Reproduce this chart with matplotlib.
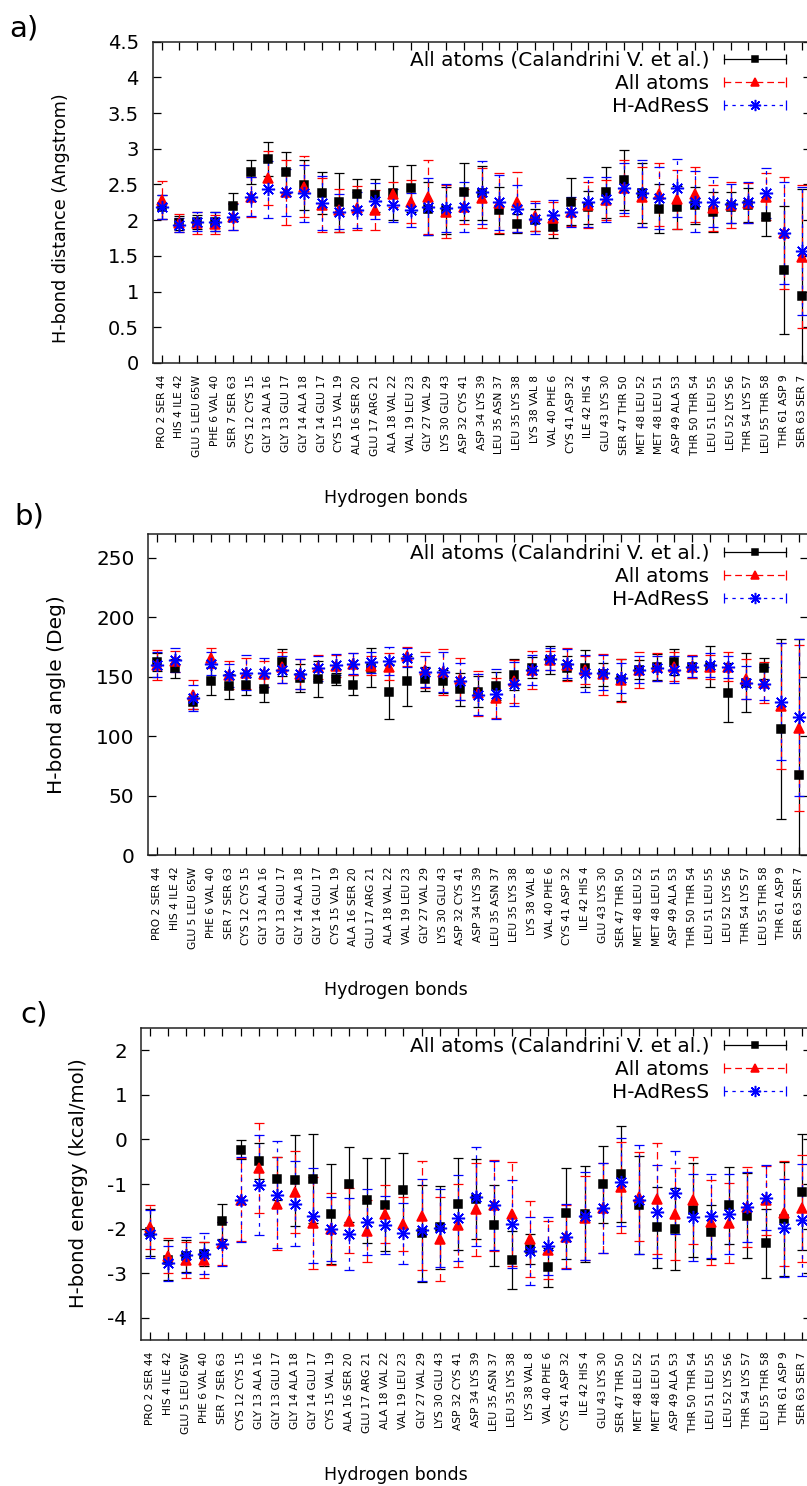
import numpy as np
import matplotlib
matplotlib.use("Agg")
import matplotlib.pyplot as plt
from matplotlib.lines import Line2D
from matplotlib.legend_handler import HandlerBase
from matplotlib.ticker import FuncFormatter, MultipleLocator

plt.rcParams['font.family'] = ['DejaVu Sans']
plt.rcParams['axes.unicode_minus'] = False

# ---------------- data ----------------
bonds = ["PRO 2 SER 44", "HIS 4 ILE 42", "GLU 5 LEU 65W", "PHE 6 VAL 40", "SER 7 SER 63",
         "CYS 12 CYS 15", "GLY 13 ALA 16", "GLY 13 GLU 17", "GLY 14 ALA 18", "GLY 14 GLU 17",
         "CYS 15 VAL 19", "ALA 16 SER 20", "GLU 17 ARG 21", "ALA 18 VAL 22", "VAL 19 LEU 23",
         "GLY 27 VAL 29", "LYS 30 GLU 43", "ASP 32 CYS 41", "ASP 34 LYS 39", "LEU 35 ASN 37",
         "LEU 35 LYS 38", "LYS 38 VAL 8", "VAL 40 PHE 6", "CYS 41 ASP 32", "ILE 42 HIS 4",
         "GLU 43 LYS 30", "SER 47 THR 50", "MET 48 LEU 52", "MET 48 LEU 51", "ASP 49 ALA 53",
         "THR 50 THR 54", "LEU 51 LEU 55", "LEU 52 LYS 56", "THR 54 LYS 57", "LEU 55 THR 58",
         "THR 61 ASP 9", "SER 63 SER 7"]

series_names = ["All atoms (Calandrini V. et al.)", "All atoms", "H-AdResS"]

# (a) H-bond distance (Angstrom)
dist_calandrini = [2.18, 1.96, 1.97, 1.98, 2.20, 2.67, 2.86, 2.67, 2.49, 2.38, 2.25, 2.36, 2.35, 2.38, 2.45,
                   2.16, 2.14, 2.40, 2.38, 2.14, 1.95, 2.00, 1.91, 2.26, 2.18, 2.39, 2.56, 2.38, 2.16, 2.18,
                   2.21, 2.11, 2.18, 2.21, 2.05, 1.30, 0.94]
dist_calandrini_err = [0.17, 0.10, 0.10, 0.13, 0.18, 0.17, 0.24, 0.29, 0.35, 0.30, 0.41, 0.22, 0.23, 0.38, 0.33,
                       0.37, 0.33, 0.40, 0.38, 0.33, 0.13, 0.15, 0.16, 0.33, 0.23, 0.36, 0.42, 0.42, 0.34, 0.30,
                       0.26, 0.28, 0.22, 0.24, 0.27, 0.90, 1.50]
dist_aa = [2.28, 1.96, 1.96, 1.94, 2.05, 2.33, 2.59, 2.39, 2.47, 2.21, 2.14, 2.17, 2.14, 2.36, 2.26,
           2.32, 2.12, 2.19, 2.31, 2.24, 2.26, 2.06, 2.03, 2.11, 2.21, 2.28, 2.45, 2.33, 2.36, 2.29,
           2.36, 2.17, 2.21, 2.24, 2.33, 1.82, 1.49]
dist_aa_err = [0.27, 0.13, 0.15, 0.13, 0.19, 0.28, 0.38, 0.46, 0.43, 0.38, 0.30, 0.31, 0.28, 0.18, 0.30,
               0.52, 0.37, 0.25, 0.42, 0.42, 0.42, 0.21, 0.22, 0.19, 0.32, 0.28, 0.39, 0.42, 0.44, 0.42,
               0.39, 0.32, 0.32, 0.28, 0.33, 0.78, 1.00]
dist_hadress = [2.18, 1.93, 1.98, 1.98, 2.04, 2.33, 2.43, 2.39, 2.38, 2.24, 2.12, 2.14, 2.27, 2.21, 2.14,
                2.19, 2.17, 2.19, 2.39, 2.25, 2.16, 2.02, 2.07, 2.11, 2.25, 2.29, 2.45, 2.38, 2.31, 2.45,
                2.26, 2.26, 2.23, 2.25, 2.38, 1.82, 1.57]
dist_hadress_err = [0.17, 0.10, 0.13, 0.13, 0.18, 0.27, 0.40, 0.33, 0.40, 0.38, 0.25, 0.25, 0.25, 0.23, 0.24,
                    0.40, 0.33, 0.35, 0.44, 0.39, 0.33, 0.22, 0.21, 0.21, 0.35, 0.32, 0.35, 0.47, 0.43, 0.41,
                    0.43, 0.35, 0.27, 0.29, 0.35, 0.72, 0.90]

# (b) H-bond angle (Deg)
ang_calandrini = [162, 157, 128.5, 146.5, 142, 143, 139.5, 162, 149, 148, 148, 143, 157.7, 137.5, 146,
                  148, 146, 139.5, 137.5, 142, 151.5, 157.7, 164, 157, 157, 152, 147, 156, 158, 162,
                  158, 158.5, 136.6, 145, 157, 106, 67]
ang_calandrini_err = [7.5, 8, 5.5, 12, 10.5, 8, 11, 11.5, 12, 15, 5, 8.5, 16.5, 23, 21,
                      10, 10, 14, 13, 12, 13, 8.5, 11.5, 10, 15.5, 9.5, 17.5, 8, 11, 11,
                      9.5, 17.5, 24.5, 25, 9, 75.5, 115]
ang_aa = [160, 163, 135, 165.5, 151.5, 153, 152, 158, 152, 158, 159, 160.5, 159, 158.5, 167,
          155.7, 154, 148, 136, 132, 146, 155.7, 164, 160, 155.7, 152, 147, 155.7, 158, 158.5,
          158.5, 158, 158.5, 148, 145, 125.7, 107]
ang_aa_err = [12.5, 9, 12, 8.5, 11.5, 13, 11, 13, 12.5, 10, 9, 9.5, 8, 11, 8,
              15, 19.5, 18, 19, 17, 18, 16, 8, 14, 12, 17, 18, 15, 12, 12.5,
              10, 10, 12, 17, 17, 53, 70]
ang_hadress = [160, 164, 132, 161, 151, 153.5, 153.5, 156, 152, 157, 160, 161, 162, 163, 166,
               154, 154, 146, 135, 135.5, 144, 155.7, 164.7, 161, 153, 153.5, 148.7, 156, 157, 156,
               158.5, 160, 158, 145, 144, 129, 116]
ang_hadress_err = [10.5, 10, 11, 10, 10, 14.5, 12.5, 11.5, 12.5, 10.5, 9, 9, 8.7, 12, 8,
                   13, 16.7, 15.5, 17.5, 21, 18.5, 12.5, 9.5, 12.5, 15.5, 15, 12.5, 11, 10.5, 11.5,
                   8.5, 10, 9.5, 14, 14, 49, 66]

# (c) H-bond energy (kcal/mol)
en_calandrini = [-2.08, -2.71, -2.61, -2.57, -1.84, -0.23, -0.48, -0.88, -0.92, -0.88, -1.67, -1.01, -1.37,
                 -1.46, -1.14, -2.11, -1.97, -1.44, -1.33, -1.93, -2.71, -2.46, -2.87, -1.66, -1.67, -1.01,
                 -0.78, -1.48, -1.97, -2.01, -1.58, -2.07, -1.48, -1.71, -2.33, -1.78, -1.18]
en_calandrini_err = [0.53, 0.45, 0.36, 0.26, 0.40, 0.21, 0.40, 0.49, 1.03, 1.00, 1.12, 0.85, 0.95,
                     1.05, 0.84, 1.08, 0.93, 1.03, 0.90, 0.90, 0.65, 0.34, 0.43, 1.03, 1.08, 0.86,
                     1.08, 1.10, 0.91, 0.93, 1.06, 0.61, 0.86, 0.96, 0.77, 1.28, 1.30]
en_aa = [-1.97, -2.61, -2.71, -2.71, -2.33, -1.35, -0.65, -1.44, -1.18, -1.88, -2.01, -1.82, -2.05,
         -1.67, -1.90, -1.71, -2.23, -1.93, -1.57, -1.48, -1.67, -2.23, -2.48, -2.18, -1.77, -1.54,
         -1.07, -1.29, -1.33, -1.67, -1.37, -1.86, -1.88, -1.52, -1.37, -1.66, -1.54]
en_aa_err = [0.49, 0.39, 0.41, 0.40, 0.48, 0.93, 1.01, 1.05, 0.91, 1.03, 0.81, 0.72, 0.69,
             0.65, 0.60, 1.23, 0.94, 0.94, 1.05, 1.02, 1.16, 0.85, 0.66, 0.71, 0.94, 1.00,
             1.02, 1.00, 1.24, 1.03, 0.98, 0.96, 0.90, 0.90, 0.77, 1.17, 1.20]
en_hadress = [-2.12, -2.78, -2.59, -2.56, -2.35, -1.35, -1.03, -1.24, -1.44, -1.71, -2.01, -2.12, -1.86,
              -1.92, -2.11, -2.03, -1.99, -1.76, -1.29, -1.48, -1.90, -2.50, -2.39, -2.18, -1.71, -1.54,
              -0.96, -1.35, -1.62, -1.20, -1.75, -1.71, -1.67, -1.52, -1.31, -1.99, -1.81]
en_hadress_err = [0.53, 0.39, 0.40, 0.46, 0.49, 0.95, 1.12, 1.20, 0.96, 1.06, 0.72, 0.81, 0.74,
                  0.65, 0.69, 1.14, 0.88, 0.97, 1.11, 1.00, 0.98, 0.76, 0.65, 0.73, 0.99, 1.00,
                  0.99, 1.22, 1.05, 0.93, 0.98, 0.94, 0.90, 0.78, 0.73, 1.10, 1.26]

# ---------------- style ----------------
W, H = 807, 1486
fig = plt.figure(figsize=(W / 100, H / 100), dpi=100)

styles = [
    dict(color='#000000', marker='s', ms=5.6, dashes=None),
    dict(color='#ff0000', marker='^', ms=7.5, dashes=(6, 3.5)),
    dict(color='#0000ff', marker=(8, 2, 0), ms=9.5, dashes=(3, 4)),
]
LW = 0.9
CAP = 3.4


class HandlerErrLine(HandlerBase):
    def create_artists(self, legend, orig, xdescent, ydescent, width, height, fontsize, trans):
        y = height / 2 - ydescent
        x0, x1 = -xdescent, width - xdescent
        line = Line2D([x0, x1], [y, y], color=orig.get_color(), lw=orig.get_linewidth())
        line.set_linestyle(orig.get_linestyle())
        if orig._dash_pattern[1] is not None:
            line.set_dashes(orig._dash_pattern[1])
        caps = Line2D([x0, x1], [y, y], color=orig.get_color(), linestyle='None',
                      marker='|', ms=2 * CAP, mew=orig.get_linewidth())
        mk = Line2D([(x0 + x1) / 2], [y], color=orig.get_color(), linestyle='None',
                    marker=orig.get_marker(), ms=orig.get_markersize() * 0.85,
                    mew=orig.get_markeredgewidth())
        for a in (line, caps, mk):
            a.set_transform(trans)
        return [line, caps, mk]


def px(x, y):
    return x / W, 1 - y / H


panels = [
    dict(rect=(152.8, 41.7, 810.6, 363.0), ylim=(0, 4.5), step=0.5,
         data=[(dist_calandrini, dist_calandrini_err), (dist_aa, dist_aa_err), (dist_hadress, dist_hadress_err)],
         ylabel="H-bond distance (Angstrom)", ylab_xy=(61, 218), ylab_fs=12.7, tick_fs=14,
         tag="a)", tag_xy=(9, 36), xlab_y=498, leg_top=51),
    dict(rect=(148.4, 534.0, 808.2, 855.0), ylim=(0, 270), step=50,
         data=[(ang_calandrini, ang_calandrini_err), (ang_aa, ang_aa_err), (ang_hadress, ang_hadress_err)],
         ylabel="H-bond angle (Deg)", ylab_xy=(56, 695), ylab_fs=14.5, tick_fs=14.4,
         tag="b)", tag_xy=(14, 525), xlab_y=990, leg_top=544),
    dict(rect=(141.0, 1028.0, 810.8, 1340.0), ylim=(-4.5, 2.5), step=1,
         data=[(en_calandrini, en_calandrini_err), (en_aa, en_aa_err), (en_hadress, en_hadress_err)],
         ylabel="H-bond energy (kcal/mol)", ylab_xy=(78, 1183), ylab_fs=14.1, tick_fs=14.4,
         tag="c)", tag_xy=(20, 1022), xlab_y=1475, leg_top=1037),
]

x = np.arange(len(bonds))

for p in panels:
    l, t, r, b = p['rect']
    ax = fig.add_axes([l / W, 1 - b / H, (r - l) / W, (b - t) / H])
    handles = []
    for (vals, errs), st, name in zip(p['data'], styles, series_names):
        eb = ax.errorbar(x, vals, yerr=errs, fmt='none', ecolor=st['color'], elinewidth=LW,
                         capsize=CAP, capthick=LW, zorder=2)
        if st['dashes'] is not None:
            for lc in eb.lines[2]:
                lc.set_linestyle((0, st['dashes']))
        ax.plot(x, vals, linestyle='None', marker=st['marker'], ms=st['ms'], color=st['color'],
                mec=st['color'], mew=1.1, zorder=3)
        h = Line2D([], [], color=st['color'], lw=LW, marker=st['marker'], ms=st['ms'], mew=1.1)
        if st['dashes'] is not None:
            h.set_linestyle((0, st['dashes']))
        handles.append(h)

    ax.set_xlim(-0.5, len(bonds) - 0.5)
    ax.set_ylim(*p['ylim'])
    ax.yaxis.set_major_locator(MultipleLocator(p['step']))
    ax.yaxis.set_major_formatter(FuncFormatter(lambda v, pos: '%g' % round(v, 3)))
    ax.set_xticks(x)
    ax.set_xticklabels(bonds, rotation=90, fontsize=7.7)
    ax.tick_params(axis='x', direction='in', length=6, width=0.9, top=True, pad=8.5)
    ax.tick_params(axis='y', direction='in', length=6, width=0.9, right=True, pad=10,
                   labelsize=p['tick_fs'])
    for s in ax.spines.values():
        s.set_linewidth(1.1)
        s.set_color('#222222')

    leg = ax.legend(handles, series_names, loc='upper right',
                    bbox_to_anchor=px(786, p['leg_top']), bbox_transform=fig.transFigure,
                    frameon=False, markerfirst=False, fontsize=14.5, handlelength=3.1,
                    handletextpad=0.7, labelspacing=0.2, borderpad=0, borderaxespad=0,
                    handler_map={Line2D: HandlerErrLine()})
    for txt in leg.get_texts():
        txt.set_ha('right')

    fig.text(*px(*p['ylab_xy']), p['ylabel'], rotation=90, ha='center', va='center',
             fontsize=p['ylab_fs'])
    fig.text(*px(396, p['xlab_y']), "Hydrogen bonds", ha='center', va='center', fontsize=12.5)
    fig.text(*px(*p['tag_xy']), p['tag'], ha='left', va='baseline', fontsize=21)

fig.savefig("out.png", dpi=100)
